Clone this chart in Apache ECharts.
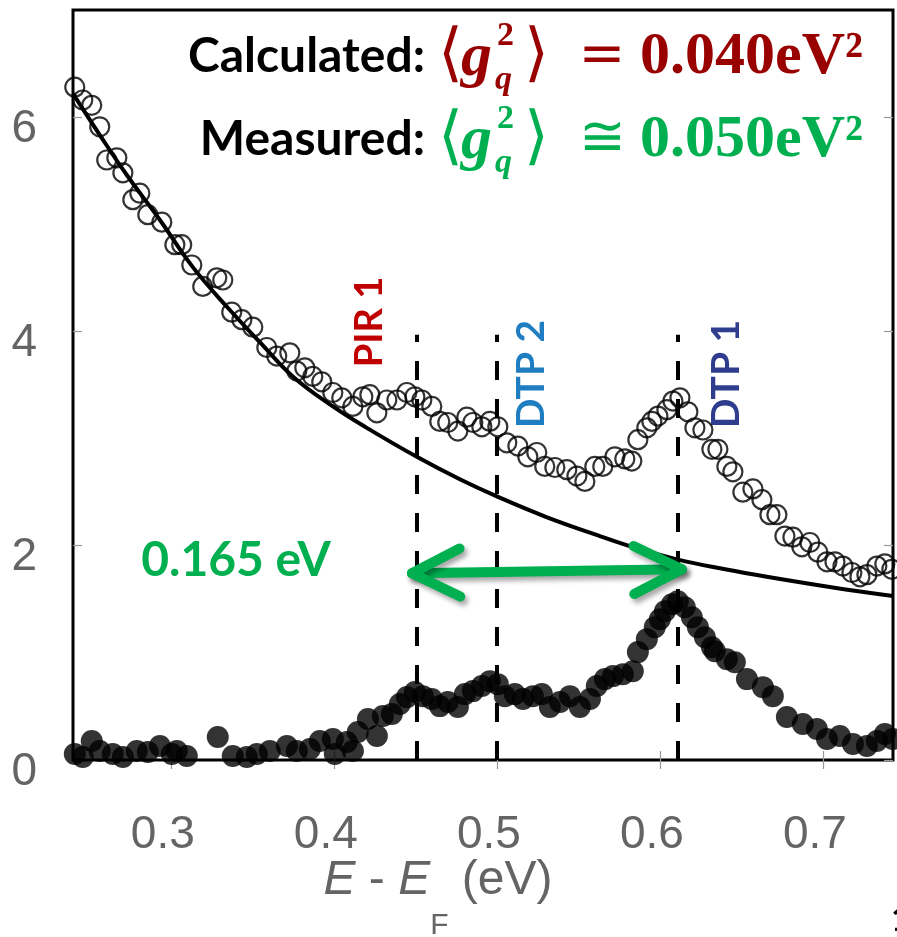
<!DOCTYPE html>
<html><head><meta charset="utf-8">
<script src="https://cdn.jsdelivr.net/npm/echarts@6/dist/echarts.min.js"></script>
<style>html,body{margin:0;padding:0;background:#fff}#c{width:897px;height:937px}</style>
</head><body><div id="c"></div>
<script>
// ---- data ----
const xTicks = [0.3, 0.4, 0.5, 0.6, 0.7];
const yTicks = [0, 2, 4, 6];
const openX = [0.2411,0.2460,0.2515,0.2564,0.2607,0.2669,0.2706,0.2767,0.2810,0.2859,0.2945,0.3025,0.3067,0.3129,0.3196,0.3282,0.3319,0.3374,0.3436,0.3503,0.3589,0.3650,0.3730,0.3773,0.3822,0.3871,0.3926,0.3994,0.4049,0.4117,0.4178,0.4221,0.4264,0.4325,0.4387,0.4448,0.4497,0.4540,0.4601,0.4650,0.4699,0.4761,0.4816,0.4853,0.4908,0.4957,0.5006,0.5061,0.5129,0.5190,0.5245,0.5294,0.5356,0.5429,0.5491,0.5540,0.5601,0.5650,0.5724,0.5785,0.5828,0.5865,0.5920,0.5951,0.5988,0.6043,0.6080,0.6123,0.6172,0.6215,0.6264,0.6319,0.6356,0.6411,0.6448,0.6509,0.6571,0.6626,0.6675,0.6718,0.6767,0.6816,0.6871,0.6920,0.6969,0.7025,0.7074,0.7123,0.7178,0.7227,0.7270,0.7331,0.7380,0.7423];
const openY = [6.28,6.16,6.11,5.91,5.60,5.62,5.48,5.23,5.29,5.09,5.02,4.81,4.81,4.62,4.42,4.50,4.48,4.18,4.11,4.04,3.85,3.77,3.80,3.63,3.66,3.58,3.53,3.43,3.38,3.30,3.39,3.41,3.24,3.36,3.36,3.43,3.39,3.36,3.30,3.16,3.15,3.07,3.20,3.15,3.11,3.16,3.11,2.96,2.93,2.83,2.87,2.74,2.73,2.71,2.65,2.60,2.74,2.74,2.83,2.81,2.79,2.99,3.10,3.16,3.21,3.27,3.35,3.38,3.25,3.10,3.08,2.90,2.90,2.74,2.69,2.50,2.53,2.43,2.29,2.29,2.09,2.08,1.99,2.03,1.94,1.85,1.85,1.81,1.75,1.71,1.73,1.81,1.83,1.78];
const filledX = [0.2411,0.2460,0.2515,0.2564,0.2644,0.2706,0.2791,0.2859,0.2933,0.3006,0.3037,0.3098,0.3288,0.3380,0.3466,0.3528,0.3607,0.3712,0.3773,0.3853,0.3914,0.3994,0.4006,0.4080,0.4117,0.4147,0.4209,0.4264,0.4301,0.4356,0.4405,0.4448,0.4497,0.4546,0.4601,0.4650,0.4699,0.4761,0.4804,0.4853,0.4908,0.4957,0.5006,0.5049,0.5110,0.5160,0.5221,0.5276,0.5325,0.5387,0.5448,0.5509,0.5571,0.5613,0.5663,0.5712,0.5773,0.5834,0.5865,0.5920,0.5969,0.6000,0.6031,0.6074,0.6110,0.6153,0.6196,0.6233,0.6276,0.6319,0.6337,0.6411,0.6460,0.6534,0.6632,0.6693,0.6779,0.6877,0.6963,0.7025,0.7104,0.7184,0.7270,0.7331,0.7380,0.7429];
const filledY = [0.056,0.028,0.177,0.084,0.056,0.028,0.084,0.075,0.130,0.056,0.084,0.037,0.214,0.037,0.028,0.056,0.084,0.130,0.084,0.103,0.177,0.196,0.056,0.168,0.084,0.261,0.382,0.224,0.410,0.429,0.522,0.587,0.634,0.596,0.569,0.503,0.541,0.494,0.615,0.643,0.690,0.736,0.708,0.596,0.615,0.569,0.596,0.615,0.494,0.541,0.596,0.494,0.569,0.690,0.755,0.783,0.801,0.829,1.007,1.128,1.240,1.314,1.389,1.454,1.482,1.426,1.333,1.240,1.146,1.053,1.016,0.941,0.913,0.755,0.680,0.596,0.401,0.336,0.289,0.196,0.224,0.149,0.130,0.177,0.242,0.196];
const fitX = [0.240,0.2583,0.273,0.2933,0.3135,0.3344,0.3546,0.3748,0.3994,0.4202,0.4509,0.4773,0.500,0.530,0.5632,0.585,0.611,0.640,0.6656,0.7061,0.743];
const fitY = [6.22,5.79,5.46,5.04,4.60,4.23,3.90,3.58,3.30,3.10,2.83,2.62,2.46,2.27,2.09,1.98,1.87,1.78,1.71,1.61,1.53];
const markerX = [0.451, 0.500, 0.611];
const markerTop = 3.97;
const arrowX = [0.4479, 0.6135];
const arrowY = [1.743, 1.780];

const zip = (a, b) => a.map((v, i) => [v, b[i]]);

const chart = echarts.init(document.getElementById('c'), null, {renderer: 'canvas'});
const labelColor = '#646464';
const arial = "'Liberation Sans',Arial,sans-serif";
const tickStyle = {show: true, inside: true, length: 9, lineStyle: {color: '#999', width: 1.2}};

const arrowStyle = {stroke: '#00B050', lineWidth: 10, lineCap: 'round', lineJoin: 'round', fill: null,
  shadowBlur: 5, shadowColor: 'rgba(0,0,0,0.35)', shadowOffsetX: 3, shadowOffsetY: 4};

const serif = "'Liberation Serif','DejaVu Serif',serif";
const sans = "Lato,'Open Sans',sans-serif";

function mathRow(y, sym, color, value) {
  return [
    {type: 'text', x: 438, y: y, style: {text: '\u27E8', font: "64px 'DejaVu Serif',serif", fill: color, align: 'left', verticalAlign: 'middle'}},
    {type: 'text', x: 461, y: y + 2, style: {text: 'g', font: 'italic bold 62px ' + serif, fill: color, align: 'left', verticalAlign: 'middle'}},
    {type: 'text', x: 497, y: y - 21, style: {text: '2', font: 'bold 34px ' + serif, fill: color, align: 'left', verticalAlign: 'middle'}},
    {type: 'text', x: 495, y: y + 23, style: {text: 'q', font: 'italic bold 34px ' + serif, fill: color, align: 'left', verticalAlign: 'middle'}},
    {type: 'text', x: 524, y: y, style: {text: '\u27E9', font: "64px 'DejaVu Serif',serif", fill: color, align: 'left', verticalAlign: 'middle'}},
    {type: 'text', x: 602, y: y, style: {text: sym, font: "56px 'DejaVu Serif',serif", fill: color, align: 'center', verticalAlign: 'middle'}},
    {type: 'text', x: 640, y: y, style: {text: value, font: 'bold 60px ' + serif, fill: color, align: 'left', verticalAlign: 'middle'}}
  ];
}

const option = {
  animation: false,
  backgroundColor: '#fff',
  grid: {left: 73, right: 4, top: 10, bottom: 177, show: true, borderColor: '#000', borderWidth: 3, backgroundColor: '#fff', outerBoundsMode: 'none'},
  xAxis: [{
    type: 'value', min: 0.24, max: 0.743, position: 'bottom',
    axisLine: {show: false}, splitLine: {show: false},
    axisTick: Object.assign({customValues: xTicks}, tickStyle),
    axisLabel: {customValues: xTicks, margin: 52,
      formatter: v => '{a|' + (+v).toFixed(1) + '}',
      rich: {a: {fontSize: 46, fontFamily: arial, color: labelColor, padding: [0, 16, 0, 0]}}},
    name: '{i|E} - {i|E}{s|F} (eV)', nameLocation: 'middle', nameGap: 61, nameMoveOverlap: false,
    nameTextStyle: {fontSize: 48, fontFamily: arial, color: labelColor, lineHeight: 120, padding: [0, 90, 0, 0],
      rich: {i: {fontSize: 48, fontStyle: 'italic', fontFamily: arial, color: labelColor, lineHeight: 120, verticalAlign: 'middle'},
             s: {fontSize: 30, fontFamily: arial, color: labelColor, lineHeight: 30, verticalAlign: 'bottom'}}}
  }, {
    type: 'value', min: 0.24, max: 0.743, position: 'top',
    axisLine: {show: false}, splitLine: {show: false}, axisLabel: {show: false},
    axisTick: Object.assign({customValues: xTicks}, tickStyle)
  }],
  yAxis: [{
    type: 'value', min: 0, max: 7, position: 'left',
    axisLine: {show: false}, splitLine: {show: false},
    axisTick: Object.assign({customValues: yTicks}, tickStyle),
    axisLabel: {customValues: yTicks, margin: 36,
      formatter: v => '{a|' + v + '}',
      rich: {a: {fontSize: 46, fontFamily: arial, color: labelColor, padding: [24, 0, 0, 0]}}}
  }, {
    type: 'value', min: 0, max: 7, position: 'right',
    axisLine: {show: false}, splitLine: {show: false}, axisLabel: {show: false},
    axisTick: Object.assign({customValues: yTicks}, tickStyle)
  }],
  series: [
    {type: 'line', name: 'fit', data: zip(fitX, fitY), smooth: 0.4, symbol: 'none', lineStyle: {color: '#000', width: 4}, z: 2},
    {type: 'scatter', name: 'open', data: zip(openX, openY), symbol: 'circle', symbolSize: 19,
      itemStyle: {color: 'rgba(0,0,0,0)', borderColor: '#000', borderWidth: 2.2}, z: 3},
    {type: 'scatter', name: 'filled', data: zip(filledX, filledY), symbol: 'circle', symbolSize: 22,
      itemStyle: {color: '#000'}, z: 3},
    {type: 'line', name: 'markers', data: [], z: 4,
      markLine: {silent: true, symbol: 'none', label: {show: false},
        lineStyle: {color: '#000', width: 4, type: [19, 19]},
        data: markerX.map(x => [{coord: [x, 0]}, {coord: [x, markerTop]}])}},
    {type: 'custom', name: 'arrow', data: [[arrowX[0], arrowY[0], arrowX[1], arrowY[1]]], z: 5, clip: false,
      renderItem: (params, api) => {
        const p1 = api.coord([api.value(0), api.value(1)]);
        const p2 = api.coord([api.value(2), api.value(3)]);
        const dx = p2[0] - p1[0], dy = p2[1] - p1[1], len = Math.hypot(dx, dy);
        const ux = dx / len, uy = dy / len, nx = -uy, ny = ux;
        const L = 48, H = 24;
        const head = (p, s) => [[p[0] + s * ux * L + nx * H, p[1] + s * uy * L + ny * H], [p[0], p[1]], [p[0] + s * ux * L - nx * H, p[1] + s * uy * L - ny * H]];
        return {type: 'group', children: [
          {type: 'polyline', shape: {points: [p1, p2]}, style: arrowStyle},
          {type: 'polyline', shape: {points: head(p1, 1)}, style: arrowStyle},
          {type: 'polyline', shape: {points: head(p2, -1)}, style: arrowStyle}
        ]};
      }}
  ],
  graphic: [
    {type: 'text', x: 425, y: 57, style: {text: 'Calculated:', font: 'bold 48px ' + sans, fill: '#000', align: 'right', verticalAlign: 'middle'}},
    {type: 'text', x: 425, y: 140, style: {text: 'Measured:', font: 'bold 48px ' + sans, fill: '#000', align: 'right', verticalAlign: 'middle'}},
    ...mathRow(57, '=', '#990000', '0.040eV\u00B2'),
    ...mathRow(140, '\u2245', '#00B050', '0.050eV\u00B2'),
    {type: 'text', x: 370, y: 322, rotation: Math.PI / 2, style: {text: 'PIR 1', font: 'bold 38px ' + sans, fill: '#C00000', align: 'center', verticalAlign: 'middle'}},
    {type: 'text', x: 531, y: 374, rotation: Math.PI / 2, style: {text: 'DTP 2', font: 'bold 39px ' + sans, fill: '#1F7DC2', align: 'center', verticalAlign: 'middle'}},
    {type: 'text', x: 726, y: 374, rotation: Math.PI / 2, style: {text: 'DTP 1', font: 'bold 39px ' + sans, fill: '#2F3D8F', align: 'center', verticalAlign: 'middle'}},
    {type: 'text', x: 236, y: 561, style: {text: '0.165 eV', font: 'bold 48px ' + sans, fill: '#00B050', align: 'center', verticalAlign: 'middle'}},
    {type: 'text', x: 891, y: 903, style: {text: '1', font: 'bold 34px ' + sans, fill: '#000', align: 'left', verticalAlign: 'top'}}
  ]
};
chart.setOption(option);
</script></body></html>
